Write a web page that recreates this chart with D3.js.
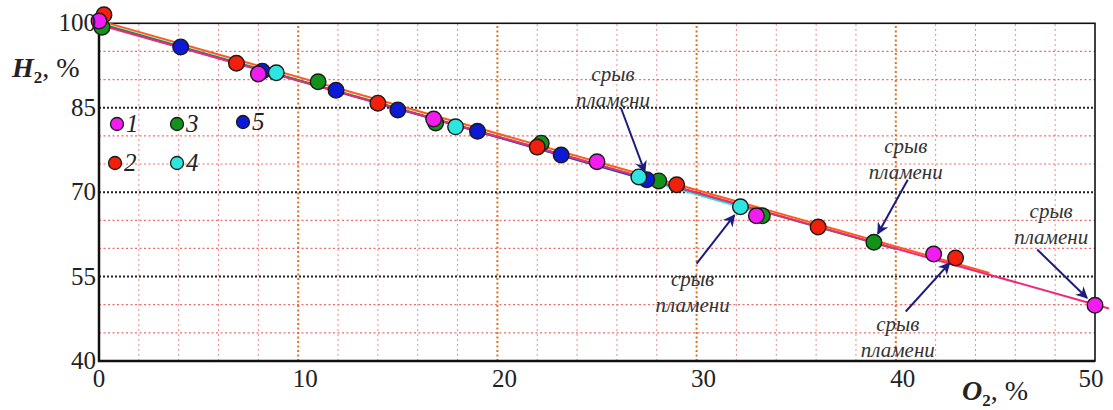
<!DOCTYPE html>
<html lang="ru">
<head>
  <meta charset="UTF-8">
  <title>H2 vs O2</title>
  <script src='https://d3js.org/d3.v7.min.js'></script>
  <style>
    body { margin: 0; background: #fff; }
  </style>
</head>
<body>
</body>
<script>
  const width = 1113, height = 410;
  const margin = {left: 99, right: 18, top: 23.3, bottom: 49};
  const serif = "'Liberation Serif', 'Times New Roman', serif";

  // data: [O2 %, H2 %]
  const series1 = [[0, 100.4], [8.0, 91.0], [16.8, 83.0], [25.0, 75.4], [33.0, 65.8], [41.9, 59.0], [50, 49.9]];
  const series2 = [[0.25, 101.5], [6.9, 92.9], [14.0, 85.8], [22.0, 78.0], [29.0, 71.3], [36.1, 63.8], [43.0, 58.3]];
  const series3 = [[0.15, 99.3], [11.0, 89.6], [16.9, 82.3], [22.2, 78.7], [28.1, 72.0], [33.3, 65.8], [38.9, 61.1]];
  const series4 = [[8.9, 91.2], [17.9, 81.6], [27.1, 72.7], [32.2, 67.4]];
  const series5 = [[4.1, 95.8], [8.2, 91.5], [11.9, 88.1], [15.0, 84.6], [19.0, 80.8], [23.2, 76.6], [27.5, 72.2]];

  const seriesNames = ['1', '2', '3', '4', '5'];
  const fillColors = ['#f21cf0', '#f0200c', '#12921a', '#2ee6e0', '#0c1ad6'];
  const lineColors = ['#f0287a', '#ff5a1e', '#1f8a1f', '#34d8d8', '#2a2ad0'];
  const fitEnd = [50.7, 44.7, 40.0, 33.0, 28.0];   // where each trend line stops (O2 %)
  const allSeries = [series1, series2, series3, series4, series5];

  const xTicks = [0, 10, 20, 30, 40, 50];
  const yTicks = [40, 55, 70, 85, 100];

  // "срыв пламени" notes: label position and arrow [from, to] in data units
  const notes = [
    {label: [25.8, 89.8], arrow: [[26.2, 85.0], [27.4, 73.6]]},
    {label: [40.5, 77.0], arrow: [[40.6, 72.2], [39.1, 62.6]]},
    {label: [47.8, 65.4], arrow: [[47.1, 59.8], [49.6, 51.2]]},
    {label: [29.8, 53.3], arrow: [[30.0, 57.3], [31.9, 65.9]]},
    {label: [40.1, 45.3], arrow: [[40.5, 48.8], [42.7, 57.4]]}
  ];

  const x = d3.scaleLinear().domain([0, 50]).range([margin.left, width - margin.right]);
  const y = d3.scaleLinear().domain([40, 100]).range([height - margin.bottom, margin.top]);

  const svg = d3.select('body').append('svg').attr('width', width).attr('height', height)
    .style('font-family', serif);

  // grid
  const grid = svg.append('g');
  grid.selectAll('.vminor').data(d3.range(2, 50, 2).filter(d => d % 10 != 0)).join('line')
    .attr('x1', d => x(d)).attr('x2', d => x(d)).attr('y1', y(40)).attr('y2', y(100))
    .attr('stroke', '#f08a8a').attr('stroke-width', 1).attr('stroke-dasharray', '2,3');
  grid.selectAll('.hminor').data(d3.range(45, 100, 5).filter(d => !yTicks.includes(d))).join('line')
    .attr('y1', d => y(d)).attr('y2', d => y(d)).attr('x1', x(0)).attr('x2', x(50))
    .attr('stroke', '#ee6b6b').attr('stroke-width', 1.2).attr('stroke-dasharray', '2,2.5');
  grid.selectAll('.vmajor').data([10, 20, 30, 40]).join('line')
    .attr('x1', d => x(d)).attr('x2', d => x(d)).attr('y1', y(40)).attr('y2', y(100))
    .attr('stroke', '#e0701c').attr('stroke-width', 2).attr('stroke-dasharray', '2,2.5');
  grid.selectAll('.hmajor').data([55, 70, 85]).join('line')
    .attr('y1', d => y(d)).attr('y2', d => y(d)).attr('x1', x(0)).attr('x2', x(50))
    .attr('stroke', '#222').attr('stroke-width', 2).attr('stroke-dasharray', '2,2');

  // frame
  svg.append('rect').attr('x', x(0)).attr('y', y(100)).attr('width', x(50) - x(0)).attr('height', y(40) - y(100))
    .attr('fill', 'none').attr('stroke', '#111').attr('stroke-width', 1.6);
  svg.append('line').attr('x1', x(0)).attr('x2', x(0)).attr('y1', y(100)).attr('y2', y(40) + 1)
    .attr('stroke', '#111').attr('stroke-width', 2.5);
  svg.append('line').attr('x1', x(0) - 1).attr('x2', x(50)).attr('y1', y(40)).attr('y2', y(40))
    .attr('stroke', '#111').attr('stroke-width', 2.5);

  // trend lines (least squares of each series)
  function fit(pts) {
    const mx = d3.mean(pts, p => p[0]), my = d3.mean(pts, p => p[1]);
    const b = d3.sum(pts, p => (p[0] - mx) * (p[1] - my)) / d3.sum(pts, p => (p[0] - mx) ** 2);
    return xv => my + b * (xv - mx);
  }
  const drawOrder = [3, 4, 2, 1, 0];
  drawOrder.forEach(i => {
    const f = fit(allSeries[i]);
    svg.append('line')
      .attr('x1', x(0)).attr('y1', y(f(0)))
      .attr('x2', x(fitEnd[i])).attr('y2', y(f(fitEnd[i])))
      .attr('stroke', lineColors[i]).attr('stroke-width', 2);
  });

  // points
  const pointOrder = [2, 1, 4, 3, 0];
  pointOrder.forEach(i => {
    svg.append('g').selectAll('circle').data(allSeries[i]).join('circle')
      .attr('cx', d => x(d[0])).attr('cy', d => y(d[1])).attr('r', 7.8)
      .attr('fill', fillColors[i]).attr('stroke', '#1a1a1a').attr('stroke-width', 1.4);
  });

  // ticks
  svg.append('g').selectAll('text').data(yTicks).join('text')
    .attr('x', x(0) - 3).attr('y', d => y(d) + 8)
    .attr('text-anchor', 'end').attr('font-size', 25).attr('fill', '#222')
    .attr('font-family', serif)
    .text(d => d);
  svg.append('g').selectAll('text').data(xTicks).join('text')
    .attr('x', d => x(d) + (d == 50 ? -4 : d == 0 ? 0 : 7)).attr('y', 387)
    .attr('text-anchor', 'middle').attr('font-size', 25).attr('fill', '#222')
    .attr('font-family', serif)
    .text(d => d);

  // axis titles
  const yt = svg.append('text').attr('x', 12).attr('y', 77).attr('fill', '#222').attr('font-size', 28)
    .attr('font-family', serif);
  yt.append('tspan').attr('font-weight', 'bold').attr('font-style', 'italic').text('H');
  yt.append('tspan').attr('font-weight', 'bold').attr('font-size', 17).attr('dy', 6).text('2');
  yt.append('tspan').attr('dy', -6).text(', %');

  const xt = svg.append('text').attr('x', 962).attr('y', 400).attr('fill', '#222').attr('font-size', 28)
    .attr('font-family', serif);
  xt.append('tspan').attr('font-weight', 'bold').attr('font-style', 'italic').text('O');
  xt.append('tspan').attr('font-weight', 'bold').attr('font-size', 17).attr('dy', 6).text('2');
  xt.append('tspan').attr('dy', -6).text(', %');

  // legend
  const legendPos = [[117, 124], [115, 163], [177, 124], [177, 163], [243, 122]];
  seriesNames.forEach((name, i) => {
    const g = svg.append('g').attr('transform', `translate(${legendPos[i][0]},${legendPos[i][1]})`);
    g.append('circle').attr('r', 6.5).attr('fill', fillColors[i]).attr('stroke', '#1a1a1a').attr('stroke-width', 1.3);
    g.append('text').attr('x', 9).attr('y', 8).attr('font-size', 25).attr('font-style', 'italic')
      .attr('font-family', serif).attr('fill', '#222').text(name);
  });

  // notes
  svg.append('defs').append('marker').attr('id', 'arr').attr('viewBox', '0 0 10 10')
    .attr('refX', 9).attr('refY', 5)
    .attr('orient', 'auto').attr('markerUnits', 'userSpaceOnUse')
    .attr('markerWidth', 18).attr('markerHeight', 12)
    .append('path').attr('d', 'M0,0 L10,5 L0,10 L3,5 Z').attr('fill', '#1c1c80');
  notes.forEach(n => {
    svg.append('line')
      .attr('x1', x(n.arrow[0][0])).attr('y1', y(n.arrow[0][1]))
      .attr('x2', x(n.arrow[1][0])).attr('y2', y(n.arrow[1][1]))
      .attr('stroke', '#1c1c80').attr('stroke-width', 2).attr('marker-end', 'url(#arr)');
    const t = svg.append('text').attr('text-anchor', 'middle').attr('font-style', 'italic')
      .attr('font-family', serif).attr('font-size', 21).attr('fill', '#333');
    t.append('tspan').attr('x', x(n.label[0])).attr('y', y(n.label[1])).text('срыв');
    t.append('tspan').attr('x', x(n.label[0])).attr('dy', 26).text('пламени');
  });
</script>
</html>
